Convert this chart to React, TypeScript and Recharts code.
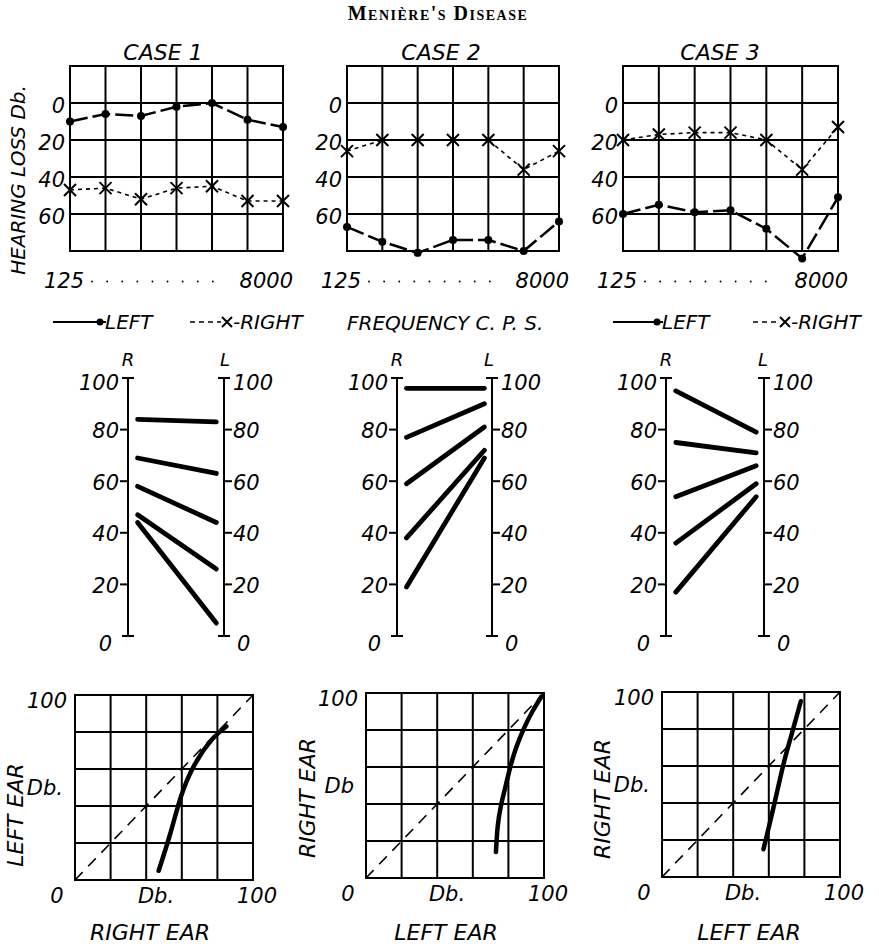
import React from 'react';
import { LineChart, Line, XAxis, YAxis, ReferenceLine } from 'recharts';

const FONT = '"DejaVu Sans", Verdana, sans-serif';

// audiograms (hearing loss in Db. at each frequency)
const freqs = [125, 250, 500, 1000, 2000, 4000, 8000];
const case1Left = [10, 6, 7, 2, 0, 9, 13];
const case1Right = [47, 46, 52, 46, 45, 53, 53];
const case2Left = [67, 75, 81, 74, 74, 80, 64];
const case2Right = [26, 20, 20, 20, 20, 36, 26];
const case3Left = [60, 55, 59, 58, 68, 84, 51];
const case3Right = [20, 17, 16, 16, 20, 36, 13];
const lossTicks = [0, 20, 40, 60];
const lossGrid = [-20, 0, 20, 40, 60, 80];

// loudness balance ladders: right ear level -> matching left ear level
const case1R = [84, 69, 58, 47, 44];
const case1L = [83, 63, 44, 26, 5];
const case2R = [96, 77, 59, 38, 19];
const case2L = [96, 90, 81, 72, 69];
const case3R = [95, 75, 54, 36, 17];
const case3L = [79, 71, 66, 59, 54];
const ladderTicks = [0, 20, 40, 60, 80, 100];

// balance curves
const case1CurveX = [47, 53.5, 59.5, 67, 77, 85];
const case1CurveY = [5, 25, 45, 62, 76, 83];
const case2CurveX = [73, 74, 75.8, 78, 80.8, 84.2, 88.8, 93.5, 98.5];
const case2CurveY = [14, 28, 39, 48, 59, 70, 81, 90, 98];
const case3CurveX = [57, 62.5, 68, 72.5, 78];
const case3CurveY = [15, 37, 60, 76, 95];
const balanceGrid = [0, 20, 40, 60, 80, 100];

const txt = { fontFamily: FONT, fontStyle: 'italic' as const, fill: '#000' };

const DotMark = (p: any) => (
  <circle key={'d' + p.index} cx={p.cx} cy={p.cy} r={4} fill="#000" stroke="none" />
);
const CrossMark = (p: any) => (
  <path
    key={'c' + p.index}
    d={`M${p.cx - 6},${p.cy - 6}L${p.cx + 6},${p.cy + 6}M${p.cx + 6},${p.cy - 6}L${p.cx - 6},${p.cy + 6}`}
    stroke="#000"
    strokeWidth={2}
    fill="none"
  />
);

const FreqTick = ({ x, y, payload, plotW }: any) => {
  if (payload.value === 125) {
    return (
      <g>
        <text x={x + 14} y={y + 18} textAnchor="end" fontSize={21} {...txt}>125</text>
        <line x1={x + 22} x2={x + plotW - 60} y1={y + 12} y2={y + 12} stroke="#000"
          strokeWidth={1.8} strokeDasharray="0.1 15" strokeLinecap="round" />
      </g>
    );
  }
  return <text x={x + 10} y={y + 18} textAnchor="end" fontSize={21} {...txt}>{payload.value}</text>;
};

const LossTick = ({ x, y, payload }: any) => (
  <text x={x - 5} y={y + 2} dy="0.36em" textAnchor="end" fontSize={21} {...txt}>{payload.value}</text>
);

function Audiogram({ gx, gy, plotW, leftVals, rightVals }: any) {
  const yAxisW = 60;
  const plotH = 185 * 1.1;
  const data = freqs.map((f, i) => ({ freq: f, left: leftVals[i], right: rightVals[i] }));
  return (
    <div style={{ position: 'absolute', left: gx - yAxisW, top: gy - 10 }}>
      <LineChart width={yAxisW + plotW + 40} height={10 + plotH + 40} data={data}
        margin={{ top: 10, right: 40, bottom: 0, left: 0 }}>
        <XAxis dataKey="freq" type="number" scale="log" domain={[125, 8000]} ticks={[125, 8000]}
          interval={0} axisLine={false} tickLine={false} tickSize={0} tickMargin={0} height={40}
          tick={(p: any) => <FreqTick {...p} plotW={plotW} />} />
        <YAxis type="number" domain={[-20, 90]} reversed ticks={lossTicks} interval={0}
          axisLine={false} tickLine={false} tickSize={0} tickMargin={0} width={yAxisW} tick={LossTick} />
        {lossGrid.map((v) => (
          <ReferenceLine key={'h' + v} segment={[{ x: 125, y: v }, { x: 8000, y: v }]}
            stroke="#000" strokeWidth={2} strokeLinecap="square" />
        ))}
        {freqs.map((f) => (
          <ReferenceLine key={'v' + f} segment={[{ x: f, y: -20 }, { x: f, y: 80 }]}
            stroke="#000" strokeWidth={2} strokeLinecap="square" />
        ))}
        <Line dataKey="right" stroke="#000" strokeWidth={1.6} strokeDasharray="4 4"
          dot={CrossMark} activeDot={false} isAnimationActive={false} />
        <Line dataKey="left" stroke="#000" strokeWidth={2.5} strokeDasharray="18 5"
          dot={DotMark} activeDot={false} isAnimationActive={false} />
      </LineChart>
    </div>
  );
}

const LadderTick = ({ x, y, payload, side }: any) => {
  const v = payload.value;
  const s = side === 'left' ? -1 : 1;
  const end = v === 0 || v === 100;
  const x1 = end ? x - 6 : s < 0 ? x - 8 : x - 1;
  const x2 = end ? x + 6 : s < 0 ? x + 1 : x + 8;
  const off = v === 0 ? (s < 0 ? 16 : 13) : 9;
  return (
    <g>
      <line x1={x1} x2={x2} y1={y} y2={y} stroke="#000" strokeWidth={2} />
      <text x={x + s * off} y={y + (v === 0 ? 7 : v === 100 ? 4 : 1)} dy="0.36em"
        textAnchor={s < 0 ? 'end' : 'start'} fontSize={21} {...txt}>{v}</text>
    </g>
  );
};

function Ladder({ rx, lx, rVals, lVals }: any) {
  const axisW = 50;
  const top = 378;
  const plotH = 258;
  const rows: any[] = [{ pos: 0.1 }, { pos: 0.92 }];
  rVals.forEach((v: number, i: number) => {
    rows[0]['s' + i] = v;
    rows[1]['s' + i] = lVals[i];
  });
  return (
    <div style={{ position: 'absolute', left: rx - axisW, top: top - 10 }}>
      <LineChart width={axisW * 2 + (lx - rx)} height={plotH + 40} data={rows}
        margin={{ top: 10, right: 0, bottom: 30, left: 0 }}>
        <XAxis dataKey="pos" type="number" domain={[0, 1]} hide />
        <YAxis yAxisId="R" orientation="left" type="number" domain={[0, 100]} ticks={ladderTicks}
          interval={0} width={axisW} tickSize={0} tickMargin={0} tickLine={false}
          axisLine={{ stroke: '#000', strokeWidth: 2 }}
          tick={(p: any) => <LadderTick {...p} side="left" />} />
        <YAxis yAxisId="L" orientation="right" type="number" domain={[0, 100]} ticks={ladderTicks}
          interval={0} width={axisW} tickSize={0} tickMargin={0} tickLine={false}
          axisLine={{ stroke: '#000', strokeWidth: 2 }}
          tick={(p: any) => <LadderTick {...p} side="right" />} />
        {rVals.map((_: number, i: number) => (
          <Line key={i} yAxisId="R" dataKey={'s' + i} stroke="#000" strokeWidth={4.8}
            strokeLinecap="round" dot={false} activeDot={false} isAnimationActive={false} />
        ))}
        {/* same lines measured on the L scale (identical scale), keeps the L axis populated */}
        <Line yAxisId="L" dataKey="s0" stroke="none" strokeWidth={0} dot={false}
          activeDot={false} isAnimationActive={false} />
      </LineChart>
    </div>
  );
}

const BalanceXTick = ({ x, y, payload }: any) => {
  const v = payload.value;
  const label = v === 50 ? 'Db.' : String(v);
  const dx = v === 0 ? -18 : v === 50 ? -8 : 4;
  return <text x={x + dx} y={y + 23} textAnchor="middle" fontSize={21} {...txt}>{label}</text>;
};

const makeBalanceYTick = (unit: string) => ({ x, y, payload }: any) => {
  const v = payload.value;
  return (
    <text x={x - (v === 100 ? 8 : 12)} y={y + (v === 100 ? 5 : 0)} dy="0.36em" textAnchor="end"
      fontSize={21} {...txt}>{v === 100 ? '100' : unit}</text>
  );
};

function Balance({ gx, gy, xs, ys, unit }: any) {
  const axisW = 50;
  const plotW = 178;
  const plotH = 185;
  const data = xs.map((x: number, i: number) => ({ x, y: ys[i] }));
  return (
    <div style={{ position: 'absolute', left: gx - axisW, top: gy - 10 }}>
      <LineChart width={axisW + plotW + 30} height={10 + plotH + 40} data={data}
        margin={{ top: 10, right: 30, bottom: 0, left: 0 }}>
        <XAxis dataKey="x" type="number" domain={[0, 100]} ticks={[0, 50, 100]} interval={0}
          axisLine={false} tickLine={false} tickSize={0} tickMargin={0} height={40} tick={BalanceXTick} />
        <YAxis type="number" domain={[0, 100]} ticks={[50, 100]} interval={0} width={axisW}
          axisLine={false} tickLine={false} tickSize={0} tickMargin={0} tick={makeBalanceYTick(unit)} />
        {balanceGrid.map((v) => (
          <ReferenceLine key={'gx' + v} x={v} stroke="#000" strokeWidth={2} strokeLinecap="square" />
        ))}
        {balanceGrid.map((v) => (
          <ReferenceLine key={'gy' + v} y={v} stroke="#000" strokeWidth={2} strokeLinecap="square" />
        ))}
        <ReferenceLine segment={[{ x: 0, y: 0 }, { x: 100, y: 100 }]} stroke="#000"
          strokeWidth={1.6} strokeDasharray="11 8" />
        <Line dataKey="y" type="natural" stroke="#000" strokeWidth={4.5} strokeLinecap="round"
          dot={false} activeDot={false} isAnimationActive={false} />
      </LineChart>
    </div>
  );
}

const Legend = ({ x1, x2, x3, x4, y }: any) => (
  <g>
    <line x1={x1} x2={x2 + 6} y1={y} y2={y} stroke="#000" strokeWidth={1.8} />
    <circle cx={x2} cy={y} r={3.5} fill="#000" />
    <text x={x2 + 5} y={y + 7} fontSize={20} {...txt}>LEFT</text>
    <line x1={x3} x2={x4 - 6} y1={y} y2={y} stroke="#000" strokeWidth={1.6} strokeDasharray="5 4" />
    <path d={`M${x4 - 5},${y - 5}L${x4 + 5},${y + 5}M${x4 + 5},${y - 5}L${x4 - 5},${y + 5}`}
      stroke="#000" strokeWidth={2} />
    <text x={x4 + 6} y={y + 7} fontSize={20} {...txt}>-RIGHT</text>
  </g>
);

export default function App() {
  return (
    <div style={{ position: 'absolute', left: 0, top: 0, width: 879, height: 944, background: '#fff', fontFamily: FONT }}>
      <svg width={879} height={944} style={{ position: 'absolute', left: 0, top: 0 }}>
        <text x={438} y={20} textAnchor="middle" fontFamily='"Liberation Serif", serif' fontWeight="bold"
          fontSize={20} letterSpacing={1.5} style={{ fontVariant: 'small-caps' }} fill="#000">Menière's Disease</text>
        <text x={163} y={60} textAnchor="middle" fontSize={22} {...txt}>CASE 1</text>
        <text x={441} y={60} textAnchor="middle" fontSize={22} {...txt}>CASE 2</text>
        <text x={720} y={60} textAnchor="middle" fontSize={22} {...txt}>CASE 3</text>
        <text x={25} y={180} textAnchor="middle" fontSize={20} transform="rotate(-90 25 180)" {...txt}>
          HEARING LOSS Db.
        </text>
        <Legend x1={53} x2={100} x3={190} x4={227} y={322} />
        <text x={347} y={330} fontSize={20} {...txt}>FREQUENCY C. P. S.</text>
        <Legend x1={613} x2={657} x3={753} x4={785} y={322} />
        {[[128, 'R'], [225, 'L'], [397, 'R'], [489, 'L'], [666, 'R'], [763, 'L']].map(([x, t]) => (
          <text key={String(x)} x={x as number} y={366} textAnchor="middle" fontSize={18} {...txt}>{t}</text>
        ))}
        <text x={23} y={815} textAnchor="middle" fontSize={22} transform="rotate(-90 23 815)" {...txt}>LEFT EAR</text>
        <text x={315} y={798} textAnchor="middle" fontSize={22} transform="rotate(-90 315 798)" {...txt}>RIGHT EAR</text>
        <text x={610} y={799} textAnchor="middle" fontSize={22} transform="rotate(-90 610 799)" {...txt}>RIGHT EAR</text>
        <text x={150} y={940} textAnchor="middle" fontSize={22} {...txt}>RIGHT EAR</text>
        <text x={446} y={940} textAnchor="middle" fontSize={22} {...txt}>LEFT EAR</text>
        <text x={749} y={940} textAnchor="middle" fontSize={22} {...txt}>LEFT EAR</text>
      </svg>
      <Audiogram gx={70} gy={66} plotW={213} leftVals={case1Left} rightVals={case1Right} />
      <Audiogram gx={347} gy={66} plotW={212} leftVals={case2Left} rightVals={case2Right} />
      <Audiogram gx={623} gy={66} plotW={215} leftVals={case3Left} rightVals={case3Right} />
      <Ladder rx={128} lx={224} rVals={case1R} lVals={case1L} />
      <Ladder rx={397} lx={492} rVals={case2R} lVals={case2L} />
      <Ladder rx={666} lx={764} rVals={case3R} lVals={case3L} />
      <Balance gx={75} gy={695} xs={case1CurveX} ys={case1CurveY} unit="Db." />
      <Balance gx={366} gy={693} xs={case2CurveX} ys={case2CurveY} unit="Db" />
      <Balance gx={662} gy={692} xs={case3CurveX} ys={case3CurveY} unit="Db." />
    </div>
  );
}
